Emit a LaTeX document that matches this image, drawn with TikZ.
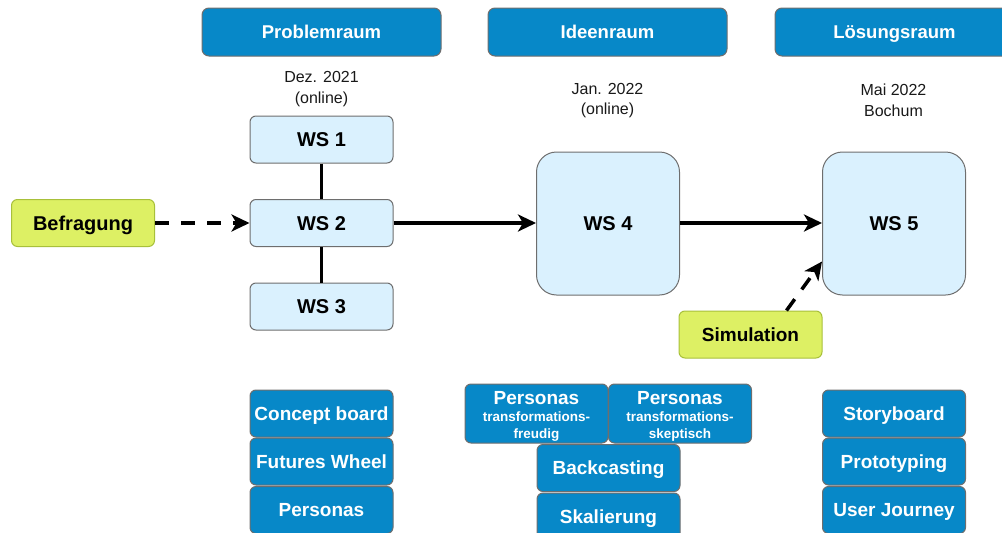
\documentclass[tikz,border=0pt]{standalone}
\usepackage{fontspec}
\setmainfont{Liberation Sans}
\usetikzlibrary{arrows.meta,calc}

\definecolor{headblue}{HTML}{0788C8}
\definecolor{wsfill}{HTML}{DAF1FE}
\definecolor{edgegray}{HTML}{6E6E6E}
\definecolor{limefill}{HTML}{DDF064}
\definecolor{limeedge}{HTML}{A8C03A}

\newcommand{\subline}{\fontsize{13.5}{15}\selectfont}

\tikzset{
  box/.style={draw=edgegray, line width=1pt, inner sep=0pt, align=center,
    minimum width=143pt, minimum height=47pt, rounded corners=6pt,
    text depth=0pt},
  wsbox/.style={box, fill=wsfill, text height=14.4pt,
    font=\bfseries\fontsize{20}{24}\selectfont},
  bigws/.style={wsbox, minimum height=143pt, rounded corners=20pt},
  headbox/.style={box, fill=headblue, text=white, minimum width=239pt,
    minimum height=48pt, rounded corners=7pt, text height=13.3pt,
    font=\bfseries\fontsize{18.5}{22}\selectfont},
  method/.style={box, fill=headblue, text=white, text height=13.7pt,
    font=\bfseries\fontsize{19}{22}\selectfont},
  persona/.style={method, minimum height=59pt, text height={}, text depth={}},
  extbox/.style={box, draw=limeedge, fill=limefill, text height=14.4pt,
    font=\bfseries\fontsize{20}{24}\selectfont},
  datelabel/.style={align=center, inner sep=0pt, text=black!90,
    font=\fontsize{16}{20.5}\selectfont},
  link/.style={line width=3.5pt},
  flow/.style={line width=3.5pt, -{Stealth[length=18pt,width=17pt,inset=5pt]}},
  dashflow/.style={flow, dash pattern=on 14pt off 12pt},
}

\begin{document}
\begin{tikzpicture}[x=1pt,y=-1pt]
\useasboundingbox (0,0) rectangle (1002,533);
\clip (0,0) rectangle (1002,533);

% phase headers
\node[headbox] (prob) at (321.5,32) {Problemraum};
\node[headbox] (idee) at (607.5,32) {Ideenraum};
\node[headbox] (loes) at (894.5,32) {Lösungsraum};

% dates and places
\node[datelabel] (d1) at (321.5,89) {Dez. 2021\\(online)};
\node[datelabel] (d2) at (607.5,100.5) {Jan. 2022\\(online)};
\node[datelabel] (d3) at (893.5,100.5) {Mai 2022\\Bochum};

% workshops
\node[wsbox] (ws1) at (321.5,139.5) {WS 1};
\node[wsbox] (ws2) at (321.5,223) {WS 2};
\node[wsbox] (ws3) at (321.5,306.5) {WS 3};
\node[bigws] (ws4) at (608,223.5) {WS 4};
\node[bigws] (ws5) at (894,223.5) {WS 5};

% external inputs
\node[extbox] (bef) at (83,223) {Befragung};
\node[extbox, text height=13.7pt, font=\bfseries\fontsize{19}{22}\selectfont]
  (sim) at (750.5,334.5) {Simulation};

% methods, problem space
\node[method] (m1) at (321.5,413.5) {Concept board};
\node[method] (m2) at (321.5,461.5) {Futures Wheel};
\node[method] (m3) at (321.5,510) {Personas};

% methods, idea space
\node[persona] (m4) at (536.5,413.5)
  {\rule{0pt}{18pt}Personas\\[-5pt]\subline transformations-\\[-5pt]\subline freudig};
\node[persona] (m5) at (680,413.5)
  {\rule{0pt}{18pt}Personas\\[-5pt]\subline transformations-\\[-5pt]\subline skeptisch};
\node[method] (m6) at (608.5,468) {Backcasting};
\node[method] (m7) at (608.5,516.5) {Skalierung};

% methods, solution space
\node[method] (m8) at (894,413.5) {Storyboard};
\node[method] (m9) at (894,461.5) {Prototyping};
\node[method] (m10) at (894,510) {User Journey};

% connectors
\draw[link] (ws1) -- (ws2);
\draw[link] (ws2) -- (ws3);
\draw[dashflow] (bef) -- (ws2);
\draw[flow] (ws2.east) -- (ws2.east -| ws4.west);
\draw[flow] (ws4.east |- ws2.east) -- (ws2.east -| ws5.west);
\draw[dashflow] ($(sim.north)!0.5!(sim.north east)$) -- ([yshift=-38pt]ws5.west);
\end{tikzpicture}
\end{document}
